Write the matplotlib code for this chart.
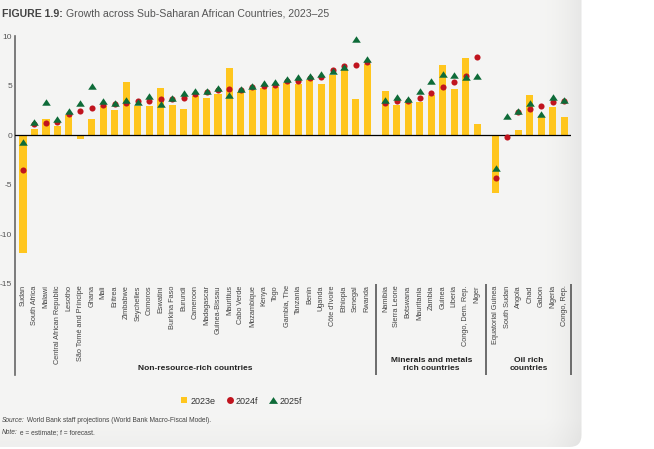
import matplotlib
matplotlib.use('Agg')
import matplotlib.pyplot as plt
import matplotlib.patches as patches
from matplotlib.lines import Line2D
from matplotlib.path import Path
from matplotlib import font_manager
import numpy as np

# data (growth, percent)
non_resource = ['Sudan', 'South Africa', 'Malawi', 'Central African Republic', 'Lesotho',
                'São Tomé and Príncipe', 'Ghana', 'Mali', 'Eritrea', 'Zimbabwe', 'Seychelles',
                'Comoros', 'Eswatini', 'Burkina Faso', 'Burundi', 'Cameroon', 'Madagascar',
                'Guinea-Bissau', 'Mauritius', 'Cabo Verde', 'Mozambique', 'Kenya', 'Togo',
                'Gambia, The', 'Tanzania', 'Benin', 'Uganda', "Côte d'Ivoire", 'Ethiopia',
                'Senegal', 'Rwanda']
minerals = ['Namibia', 'Sierra Leone', 'Botswana', 'Mauritania', 'Zambia', 'Guinea',
            'Liberia', 'Congo, Dem. Rep.', 'Niger']
oil = ['Equatorial Guinea', 'South Sudan', 'Angola', 'Chad', 'Gabon', 'Nigeria', 'Congo, Rep.']
group_labels = ['Non-resource-rich countries', 'Minerals and metals\nrich countries',
                'Oil rich\ncountries']

g2023 = [-11.9, 0.6, 1.6, 0.9, 2.1, -0.4, 1.6, 3.0, 2.6, 5.4, 3.0, 3.0, 4.8, 3.1, 2.7,
         4.0, 3.8, 4.2, 6.8, 4.4, 4.6, 4.8, 4.9, 5.3, 5.2, 5.6, 5.2, 6.1, 6.6, 3.7, 7.2,
         4.5, 3.1, 3.3, 3.4, 4.1, 7.1, 4.7, 7.8, 1.1,
         -5.8, -0.1, 0.5, 4.1, 1.9, 2.9, 1.9]
f2024 = [-3.5, 1.1, 1.2, 1.3, 2.2, 2.5, 2.8, 3.1, 3.2, 3.3, 3.5, 3.5, 3.7, 3.7, 3.8,
         4.2, 4.4, 4.6, 4.7, 4.6, 4.9, 5.0, 5.1, 5.5, 5.5, 5.8, 5.9, 6.6, 7.0, 7.1, 7.4,
         3.3, 3.5, 3.5, 3.8, 4.3, 4.9, 5.4, 6.0, 7.9,
         -4.3, -0.2, 2.4, 2.7, 3.0, 3.4, 3.5]
f2025 = [-0.7, 1.3, 3.4, 1.6, 2.5, 3.3, 5.0, 3.5, 3.3, 3.6, 3.4, 4.0, 3.2, 3.8, 4.3,
         4.5, 4.5, 4.8, 4.1, 4.7, 5.0, 5.3, 5.4, 5.7, 5.9, 6.0, 6.2, 6.5, 6.9, 9.7, 7.7,
         3.6, 3.9, 3.7, 4.5, 5.5, 6.2, 6.1, 5.9, 6.0,
         -3.3, 2.0, 2.5, 3.3, 2.2, 3.9, 3.6]

YELLOW = '#FFC61E'
RED = '#C0141E'
GREEN = '#0E6B38'

names = {f.name for f in font_manager.fontManager.ttflist}
NARROW = 'Liberation Sans Narrow' if 'Liberation Sans Narrow' in names else 'Liberation Sans'

fig = plt.figure(figsize=(6.54, 4.49), dpi=100)

# grey panel behind the chart
bg = fig.add_axes([0, 0, 1, 1], zorder=-5)
bg.set_xlim(0, 654)
bg.set_ylim(0, 449)
bg.axis('off')
panel = patches.FancyBboxPatch((-20, 2), 601.5, 467,
                               boxstyle="round,pad=0,rounding_size=12",
                               linewidth=0, facecolor='none')
bg.add_patch(panel)
xx = np.linspace(0, 582, 300)
yy = np.linspace(0, 449, 200)
X, Y = np.meshgrid(xx, yy)
shade = 0.958 - 0.05 * np.clip((X - 545) / 37, 0, 1) ** 1.5 - 0.02 * np.clip((30 - Y) / 28, 0, 1)
img = bg.imshow(np.dstack([shade, shade, shade * 0.995]), extent=(0, 582, 0, 449),
                origin='lower', aspect='auto', interpolation='bilinear')
img.set_clip_path(panel)

# main axes
ax = fig.add_axes([15 / 654, 74 / 449, 556 / 654, 338.7 / 449])
ax.patch.set_visible(False)

sizes = [len(non_resource), len(minerals), len(oil)]
gap = 1.6
pos = []
start = 0.0
for n in sizes:
    pos.extend(start + np.arange(n))
    start = pos[-1] + gap
pos = np.array(pos)
countries = non_resource + minerals + oil

ax.bar(pos, g2023, width=0.62, color=YELLOW, zorder=2)
ax.plot([-0.7, pos[-1] + 0.45], [0, 0], color='black', lw=0.9, zorder=3)
ax.plot(pos, f2024, 'o', ms=4.4, color=RED, mew=0, zorder=4)
tri = Path([(-1, -0.75), (1, -0.75), (0, 0.75), (-1, -0.75)],
           [Path.MOVETO, Path.LINETO, Path.LINETO, Path.CLOSEPOLY])
ax.plot(pos, f2025, linestyle='none', marker=tri, ms=6.2, color=GREEN, mew=0, zorder=5)

ax.set_xlim(-0.7, pos[-1] + 0.58)
ax.set_ylim(-24.2, 10)
for s in ['top', 'right', 'bottom']:
    ax.spines[s].set_visible(False)
ax.spines['left'].set_color('#666666')
ax.spines['left'].set_linewidth(1.2)
ax.set_xticks([])
ax.set_yticks([-15, -10, -5, 0, 5, 10])
ax.set_yticklabels(['-15', '-10', '-5', '0', '5', '10'], family=NARROW)
ax.tick_params(axis='y', length=0, pad=2, labelsize=6, labelcolor='#555555')

# country labels
for x, name in zip(pos, countries):
    ax.text(x, -15.15, name, rotation=90, ha='center', va='top', fontsize=5.3,
            family=NARROW, color='#444444')

# group separators and labels
idx = np.cumsum(sizes)
seps = [(pos[idx[0] - 1] + pos[idx[0]]) / 2, (pos[idx[1] - 1] + pos[idx[1]]) / 2,
        pos[-1] + 0.58]
ax.vlines(seps, -15, -24.2, color='#555555', lw=1.2, clip_on=False)
centers = [(-0.7 + seps[0]) / 2, (seps[0] + seps[1]) / 2, (seps[1] + seps[2]) / 2]
for c, lab in zip(centers, group_labels):
    ax.text(c, -23.9, lab, ha='center', va='bottom', fontsize=6.0, fontweight='bold',
            family=NARROW, color='#222222', linespacing=1.2)

# legend
handles = [Line2D([], [], ls='none', marker='s', ms=5, color=YELLOW, mew=0),
           Line2D([], [], ls='none', marker='o', ms=5, color=RED, mew=0),
           Line2D([], [], ls='none', marker=tri, ms=6.5, color=GREEN, mew=0)]
fig.legend(handles, ['2023e', '2024f', '2025f'], loc='center',
           bbox_to_anchor=(241 / 654, 1 - 401 / 449), ncol=3, frameon=False,
           prop={'family': NARROW, 'size': 6.5}, handlelength=0.8, handletextpad=0.3,
           columnspacing=1.2, labelcolor='#333333')

# title
renderer = fig.canvas.get_renderer()
t1 = fig.text(2 / 654, 1 - 14 / 449, 'FIGURE 1.9:', fontsize=7.6, fontweight='bold',
              family='Liberation Sans', color='#444444', va='center')
bb = t1.get_window_extent(renderer)
fig.text((bb.x1 + 3) / 654, 1 - 14 / 449,
         'Growth across Sub-Saharan African Countries, 2023\u201325',
         fontsize=7.6, family='Liberation Sans', color='#555555', va='center')

# source and note
for ypix, lead, rest in [(421, 'Source:', ' World Bank staff projections (World Bank Macro-Fiscal Model).'),
                         (433, 'Note:', ' e = estimate; f = forecast.')]:
    a = fig.text(2 / 654, 1 - ypix / 449, lead, fontsize=4.8, style='italic',
                 family='Liberation Sans', color='#444444', va='center')
    bb = a.get_window_extent(renderer)
    fig.text(bb.x1 / 654, 1 - ypix / 449, rest, fontsize=4.8,
             family='Liberation Sans', color='#444444', va='center')

fig.savefig('out.png', dpi=100, facecolor='white')
plt.close(fig)
